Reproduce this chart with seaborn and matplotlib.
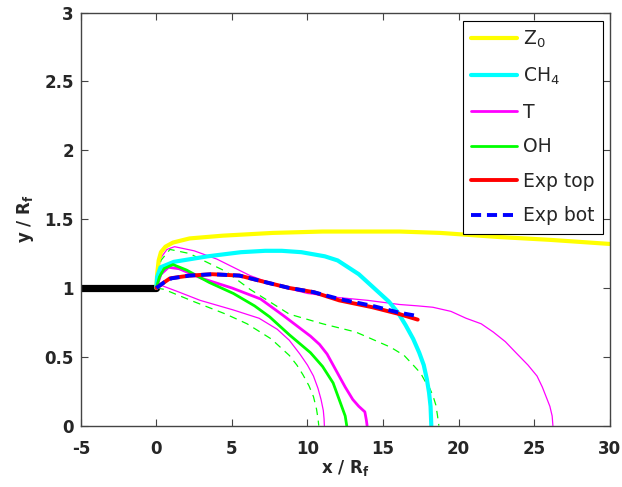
import numpy as np
import pandas as pd
import matplotlib
matplotlib.use("Agg")
import matplotlib.pyplot as plt
import seaborn as sns

# nozzle wall (black stub on the left)
wall_x = [-5, 0]
wall_y = [1.0, 1.0]

# Z0 (yellow)
z0_x = [0, 0.05, 0.15, 0.3, 0.6, 1.1, 2.2, 4.4, 7.7, 11, 14.3, 16.1, 18.8, 22.7, 26, 30]
z0_y = [1.0, 1.1, 1.2, 1.26, 1.30, 1.33, 1.36, 1.38, 1.40, 1.41, 1.41, 1.41, 1.40, 1.37, 1.35, 1.32]

# CH4 (cyan)
ch4_x = [0, 0.05, 0.27, 1.16, 3.4, 5.6, 7.2, 8.3, 9.6, 11.15, 12.0, 12.7, 13.4, 14.0, 14.7, 15.4,
         16.0, 16.5, 17.0, 17.4, 17.7, 17.9, 18.05, 18.15, 18.2]
ch4_y = [1.0, 1.08, 1.15, 1.19, 1.23, 1.26, 1.27, 1.27, 1.26, 1.23, 1.20, 1.15, 1.10, 1.04, 0.97, 0.90,
         0.82, 0.73, 0.63, 0.53, 0.44, 0.34, 0.24, 0.14, 0.0]

# T, thick contour
t_x = [0, 0.3, 0.8, 1.5, 3, 5, 6.9, 8.4, 10.2, 10.8, 11.3, 11.9, 12.5, 13.0, 13.4, 13.8, 13.9, 13.95]
t_y = [1.0, 1.1, 1.15, 1.14, 1.07, 1.0, 0.92, 0.80, 0.65, 0.59, 0.52, 0.40, 0.28, 0.19, 0.14, 0.10, 0.04, 0.0]

# T, thin outer contour
t_out_x = [0, 0.1, 0.3, 0.7, 1.2, 2.5, 4, 6.2, 8.2, 10, 12.1, 14, 16.1, 17.3, 18.3, 19.5, 20.5, 21.5,
           22.3, 23.1, 23.8, 24.6, 25.2, 25.55, 25.8, 26.05, 26.2, 26.25]
t_out_y = [1.0, 1.12, 1.22, 1.28, 1.30, 1.27, 1.21, 1.09, 1.01, 0.96, 0.93, 0.91, 0.88, 0.87, 0.86, 0.83,
           0.78, 0.74, 0.68, 0.61, 0.53, 0.44, 0.36, 0.28, 0.21, 0.14, 0.07, 0.0]

# T, thin inner contour
t_in_x = [0, 0.3, 1.5, 2.9, 5.1, 6.8, 8.0, 8.8, 9.5, 10.0, 10.4, 10.7, 10.9, 11.05, 11.1, 11.12]
t_in_y = [1.0, 1.02, 0.97, 0.91, 0.84, 0.78, 0.70, 0.62, 0.52, 0.44, 0.36, 0.27, 0.19, 0.11, 0.05, 0.0]

# OH, thick contour
oh_x = [0, 0.2, 0.5, 1.1, 2.0, 3.5, 5.1, 6.5, 7.5, 8.8, 10.2, 11.0, 11.7, 12.1, 12.5, 12.6]
oh_y = [1.0, 1.08, 1.14, 1.17, 1.13, 1.04, 0.96, 0.87, 0.79, 0.66, 0.53, 0.43, 0.31, 0.19, 0.07, 0.0]

# OH, dashed outer contour
oh_out_x = [0, 0.3, 0.9, 2.2, 3.1, 4.6, 6.2, 8.8, 11, 13.2, 15.5, 16.4, 17.0, 17.5, 17.8, 18.1, 18.3, 18.5, 18.6, 18.7]
oh_out_y = [1.0, 1.2, 1.28, 1.25, 1.20, 1.12, 0.99, 0.81, 0.74, 0.68, 0.57, 0.51, 0.44, 0.38, 0.32, 0.27, 0.22, 0.15, 0.08, 0.0]

# OH, dashed inner contour
oh_in_x = [0, 0.5, 2.5, 4.6, 6.0, 7.6, 8.8, 9.3, 9.7, 10.1, 10.4, 10.6, 10.7, 10.75]
oh_in_y = [1.0, 0.99, 0.90, 0.81, 0.74, 0.63, 0.51, 0.44, 0.37, 0.29, 0.21, 0.12, 0.05, 0.0]

# experiment
top_x = [0, 0.5, 0.9, 2.2, 3.7, 5.5, 7.3, 8.8, 10.4, 12.1, 14.3, 16.1, 17.3]
top_y = [1.0, 1.04, 1.07, 1.09, 1.10, 1.09, 1.04, 1.0, 0.97, 0.91, 0.86, 0.81, 0.77]
bot_x = [0, 0.5, 1.0, 2.2, 3.7, 5.5, 7.3, 8.8, 10.4, 12.1, 14.3, 16.1, 17.1]
bot_y = [1.0, 1.04, 1.07, 1.09, 1.10, 1.09, 1.04, 1.0, 0.97, 0.92, 0.87, 0.82, 0.80]

sns.set_style("ticks")
plt.rcParams['font.family'] = ['DejaVu Sans']
plt.rcParams['axes.unicode_minus'] = False

fig = plt.figure(figsize=(6.22, 4.87), dpi=100)
ax = fig.add_axes([0.130, 0.126, 0.850, 0.848])


def draw(xs, ys, color, lw, ls="-", label=None):
    sns.lineplot(x=xs, y=ys, sort=False, estimator=None, color=color,
                 linewidth=lw, linestyle=ls, ax=ax, label=label)


draw(wall_x, wall_y, "black", 5.2)
draw(t_out_x, t_out_y, "#ff00ff", 0.9)
draw(t_in_x, t_in_y, "#ff00ff", 0.9)
draw(oh_out_x, oh_out_y, "#00ff00", 0.9, (0, (6, 4.5)))
draw(oh_in_x, oh_in_y, "#00ff00", 0.9, (0, (6, 4.5)))
draw(z0_x, z0_y, "#ffff00", 3, label="Z$_0$")
draw(ch4_x, ch4_y, "#00ffff", 3, label="CH$_4$")
draw(t_x, t_y, "#ff00ff", 2, label="T")
draw(oh_x, oh_y, "#00ff00", 2, label="OH")
draw(top_x, top_y, "#ff0000", 2.8, label="Exp top")
draw(bot_x, bot_y, "#0000ff", 2.8, (0, (2.6, 1.5)), label="Exp bot")

ax.set_xlim(-5, 30)
ax.set_ylim(0, 3)
ax.set_xticks(np.arange(-5, 31, 5))
ax.set_yticks([0, 0.5, 1, 1.5, 2, 2.5, 3])
ax.set_yticklabels(["0", "0.5", "1", "1.5", "2", "2.5", "3"])
ax.tick_params(direction="in", top=True, right=True, length=5, width=0.8,
               labelsize=12, color="#444444")
ax.tick_params(axis="x", pad=10)
ax.tick_params(axis="y", pad=5)
for lab in ax.get_xticklabels() + ax.get_yticklabels():
    lab.set_fontweight("bold")
for s in ax.spines.values():
    s.set_visible(True)
    s.set_color("#444444")
    s.set_linewidth(1.0)

ax.set_xlabel("x / R$_\\mathregular{f}$", fontsize=12, fontweight="bold", labelpad=0)
ax.set_ylabel("y / R$_\\mathregular{f}$", fontsize=12, fontweight="bold", labelpad=6)

leg = ax.legend(loc="upper right", bbox_to_anchor=(0.994, 0.99), fontsize=13.5,
                frameon=True, fancybox=False, edgecolor="black", framealpha=1,
                handlelength=2.45, handletextpad=0.3, labelspacing=0.83,
                borderpad=0.45, borderaxespad=0.2)
leg.get_frame().set_linewidth(0.8)

fig.savefig("out.png", dpi=100)
